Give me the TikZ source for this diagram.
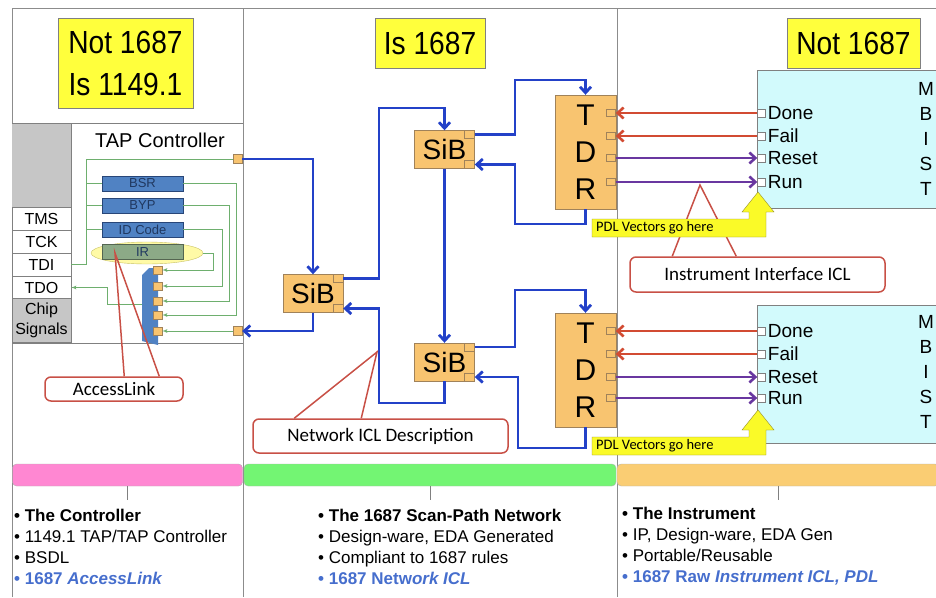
\documentclass[tikz,border=0pt]{standalone}
\usepackage{fontspec}
\setmainfont{Liberation Sans}
\newfontfamily\calfont{Carlito}
\newfontfamily\hdrfont[FakeStretch=0.88]{Liberation Sans}
\usepackage{xcolor}
\usetikzlibrary{shapes.geometric, arrows, arrows.meta, calc}

\definecolor{hdryellow}{RGB}{255,255,60}
\definecolor{sibfill}{RGB}{248,196,112}
\definecolor{sibline}{RGB}{160,130,90}
\definecolor{netblue}{RGB}{35,65,200}
\definecolor{regblue}{RGB}{80,130,195}
\definecolor{regline}{RGB}{40,70,120}
\definecolor{irfill}{RGB}{140,170,135}
\definecolor{tapgreen}{RGB}{110,175,110}
\definecolor{calred}{RGB}{200,80,70}
\definecolor{sigred}{RGB}{210,75,50}
\definecolor{sigpurple}{RGB}{105,55,160}
\definecolor{mbistfill}{RGB}{210,250,252}
\definecolor{bandpink}{RGB}{255,135,210}
\definecolor{bandgreen}{RGB}{115,245,115}
\definecolor{bandorange}{RGB}{250,205,115}
\definecolor{textblue}{RGB}{70,110,205}
\definecolor{framegray}{RGB}{140,140,140}
\definecolor{pdlyellow}{RGB}{250,250,40}

\begin{document}
\begin{tikzpicture}[x=1pt, y=-1pt]
    \tikzstyle{hdr} = [rectangle, draw=gray, fill=hdryellow, inner sep=0pt, align=center, font=\hdrfont\fontsize{32}{42}\selectfont]
    \tikzstyle{pinbox} = [rectangle, draw=gray, fill=white, minimum width=59, minimum height=23, inner sep=0pt, font=\fontsize{16}{18}\selectfont]
    \tikzstyle{regbox} = [rectangle, draw=regline, fill=regblue, minimum width=81, minimum height=15, inner sep=0pt, text=regline!80!black, font=\fontsize{13}{14}\selectfont]
    \tikzstyle{port} = [rectangle, draw=sibline, fill=sibfill, minimum width=9, minimum height=9, inner sep=0pt]
    \tikzstyle{gwire} = [draw=tapgreen, line width=0.8pt]
    \tikzstyle{sib} = [rectangle, draw=sibline, fill=sibfill, minimum width=60, minimum height=38, inner sep=0pt, font=\fontsize{28}{30}\selectfont]
    \tikzstyle{notch} = [rectangle, draw=sibline, minimum width=10, minimum height=8, inner sep=0pt]
    \tikzstyle{tdr} = [rectangle, draw=sibline, fill=sibfill, minimum width=61, minimum height=114, inner sep=0pt, align=center, font=\fontsize{30}{37}\selectfont]
    \tikzstyle{tsq} = [rectangle, draw=sibline, fill=sibfill, minimum width=9, minimum height=7, inner sep=0pt]
    \tikzstyle{mbist} = [rectangle, draw=gray, fill=mbistfill, minimum width=183, minimum height=138, inner sep=0pt]
    \tikzstyle{msq} = [rectangle, draw=gray, fill=white, minimum width=8, minimum height=8, inner sep=0pt]
    \tikzstyle{sigtxt} = [anchor=west, inner sep=2pt, font=\fontsize{19}{20}\selectfont]
    \tikzstyle{mbletters} = [align=center, inner sep=0pt, font=\fontsize{19}{25}\selectfont]
    \tikzstyle{net} = [draw=netblue, line width=2.8pt, -{Straight Barb[length=6pt,width=11pt]}]
    \tikzstyle{redsig} = [draw=sigred, line width=2.6pt, -{Straight Barb[length=6pt,width=11pt]}]
    \tikzstyle{pursig} = [draw=sigpurple, line width=2.6pt, -{Straight Barb[length=6pt,width=11pt]}]
    \tikzstyle{callbox} = [rectangle, draw=calred, line width=1.5pt, rounded corners=6pt, fill=white, font=\calfont\fontsize{19}{20}\selectfont]
    \tikzstyle{callptr} = [draw=calred, line width=1.5pt]
    \tikzstyle{pdlshape} = [draw=olive!70!gray, fill=pdlyellow]
    \tikzstyle{pdltxt} = [anchor=west, inner sep=0pt, font=\calfont\fontsize{14.5}{15}\selectfont]
    \tikzstyle{band} = [rectangle, draw=gray!60, rounded corners=4pt, minimum height=22, inner sep=0pt]
    \tikzstyle{tick} = [draw=gray, line width=1pt]
    \tikzstyle{notes} = [anchor=west, align=left, inner sep=0pt, font=\fontsize{17}{21}\selectfont]

    \useasboundingbox (0,0) rectangle (936,597);

    % frame and columns
    \draw[framegray, line width=1pt] (12,597) -- (12,8) -- (936,8);
    \draw[framegray] (243,8) -- (243,597);
    \draw[framegray] (617,8) -- (617,597);

    \node[hdr, minimum width=135, minimum height=90] (hdrtap) at (125.5,63) {Not 1687\\Is 1149.1};
    \node[hdr, minimum width=110, minimum height=50] (hdrnet) at (430,43) {Is 1687};
    \node[hdr, minimum width=133, minimum height=50] (hdrinst) at (853.5,43) {Not 1687};

    % TAP controller
    \fill[gray!45] (12,123) rectangle (71,343);
    \draw[gray] (12,123) -- (243,123);
    \draw[gray] (12,343) -- (243,343);
    \draw[gray] (71,123) -- (71,343);
    \node[font=\fontsize{20}{22}\selectfont] (tapname) at (160,140) {TAP Controller};

    \node[pinbox] (tms) at (41.5,218.5) {TMS};
    \node[pinbox] (tck) at (41.5,241.5) {TCK};
    \node[pinbox] (tdi) at (41.5,264.5) {TDI};
    \node[pinbox] (tdo) at (41.5,287.5) {TDO};
    \node[pinbox, fill=gray!45, minimum height=44, align=center, font=\fontsize{16}{20}\selectfont] (chip) at (41.5,320.5) {Chip\\Signals};

    \node[port] (tapout) at (237.5,159) {};
    \node[port] (tapin) at (237.5,331) {};

    \node[ellipse, fill=yellow!35, draw=yellow!50!gray, minimum width=112, minimum height=22, inner sep=0pt] (irhalo) at (147,253) {};
    \node[regbox] (bsr) at (142.5,183.5) {BSR};
    \node[regbox] (byp) at (142.5,205.5) {BYP};
    \node[regbox] (idc) at (142.5,229.5) {ID Code};
    \node[regbox, fill=irfill, draw=irfill!60!black] (ir) at (142.5,252) {IR};

    \fill[regblue] (142,275) -- (149,268) -- (158,268) -- (158,345) -- (142,341) -- cycle;
    \coordinate (muxout) at (142,304);
    \node[port, minimum height=8] (m1) at (157.5,270) {};
    \node[port, minimum height=8] (m2) at (157.5,286) {};
    \node[port, minimum height=8] (m3) at (157.5,301) {};
    \node[port, minimum height=8] (m4) at (157.5,315) {};
    \node[port, minimum height=8] (m5) at (157.5,331) {};

    \coordinate (tbus) at (86,159);
    \draw[gwire] (tdi.east) -| (tbus) -- (tapout.west);
    \draw[gwire] (bsr.west -| tbus) -- (bsr.west);
    \draw[gwire] (byp.west -| tbus) -- (byp.west);
    \draw[gwire] (idc.west -| tbus) -- (idc.west);
    \draw[gwire, -latex'] (irhalo.east) -| (213,270) -- (m1.east);
    \draw[gwire, -latex'] (idc.east) -| (222,286) -- (m2.east);
    \draw[gwire, -latex'] (byp.east) -| (229,301) -- (m3.east);
    \draw[gwire, -latex'] (bsr.east) -| (236,315) -- (m4.east);
    \draw[gwire, -latex'] (tapin.west) -- (m5.east);
    \draw[gwire, -latex'] (muxout) -| (107,287.5) -- (tdo.east);

    % scan-path network
    \node[sib] (sib1) at (313,293.5) {SiB};
    \node[sib] (sib2) at (444.5,149.5) {SiB};
    \node[sib] (sib3) at (444.5,362) {SiB};
    \node[notch, anchor=north east] (sib1o) at (sib1.north east) {};
    \node[notch, anchor=south east] (sib1i) at (sib1.south east) {};
    \node[notch, anchor=north east] (sib2o) at (sib2.north east) {};
    \node[notch, anchor=south east] (sib2i) at (sib2.south east) {};
    \node[notch, anchor=north east] (sib3o) at (sib3.north east) {};
    \node[notch, anchor=south east] (sib3i) at (sib3.south east) {};

    \node[tdr] (tdr1) at (585.5,152) {T\\D\\R};
    \node[tdr] (tdr2) at (585.5,370) {T\\D\\R};

    \draw[net] (tapout.east) -| (sib1.north);
    \draw[net] (sib1.south) |- (tapin.east);
    \draw[net] (sib1o.east) -| (379,108) -| (sib2.north);
    \draw[net] (sib2o.east) -| (515,80) -| (tdr1.north);
    \draw[net] (tdr1.south) |- (515,224) |- (sib2i.east);
    \draw[net] (sib2.south) -- (sib3.north);
    \draw[net] (sib3o.east) -| (515,290) -| (tdr2.north);
    \draw[net] (tdr2.south) |- (518,448) |- (sib3i.east);
    \draw[net] (sib3.south) |- (379,403) |- (sib1i.east);

    % instruments
    \node[mbist] (mb1) at (848.5,139) {};
    \node[mbist] (mb2) at (848.5,374) {};
    \node[mbletters] (mb1name) at (926,139) {M\\B\\I\\S\\T};
    \node[mbletters] (mb2name) at (926,372) {M\\B\\I\\S\\T};

    \node[tsq] (t1done) at (611,113) {};
    \node[tsq] (t1fail) at (611,136) {};
    \node[tsq] (t1reset) at (611,158) {};
    \node[tsq] (t1run) at (611,182) {};
    \node[msq] (m1done) at (761.5,113) {};
    \node[msq] (m1fail) at (761.5,136) {};
    \node[msq] (m1reset) at (761.5,158) {};
    \node[msq] (m1run) at (761.5,182) {};
    \node[sigtxt] (l1done) at (m1done.east) {Done};
    \node[sigtxt] (l1fail) at (m1fail.east) {Fail};
    \node[sigtxt] (l1reset) at (m1reset.east) {Reset};
    \node[sigtxt] (l1run) at (m1run.east) {Run};
    \draw[redsig] (m1done.west) -- (t1done.east);
    \draw[redsig] (m1fail.west) -- (t1fail.east);
    \draw[pursig] (t1reset.east) -- (m1reset.west);
    \draw[pursig] (t1run.east) -- (m1run.west);

    \node[tsq] (t2done) at (611,331) {};
    \node[tsq] (t2fail) at (611,354) {};
    \node[tsq] (t2reset) at (611,377) {};
    \node[tsq] (t2run) at (611,398) {};
    \node[msq] (m2done) at (761.5,331) {};
    \node[msq] (m2fail) at (761.5,354) {};
    \node[msq] (m2reset) at (761.5,377) {};
    \node[msq] (m2run) at (761.5,398) {};
    \node[sigtxt] (l2done) at (m2done.east) {Done};
    \node[sigtxt] (l2fail) at (m2fail.east) {Fail};
    \node[sigtxt] (l2reset) at (m2reset.east) {Reset};
    \node[sigtxt] (l2run) at (m2run.east) {Run};
    \draw[redsig] (m2done.west) -- (t2done.east);
    \draw[redsig] (m2fail.west) -- (t2fail.east);
    \draw[pursig] (t2reset.east) -- (m2reset.west);
    \draw[pursig] (t2run.east) -- (m2run.west);

    % callouts
    \node[callbox, minimum width=255, minimum height=35] (iicl) at (757.5,274.5) {Instrument Interface ICL};
    \coordinate (iicltip) at (700,185);
    \draw[callptr] ($(iicl.north west)+(43,0)$) -- (iicltip) -- ($(iicl.north west)+(107,0)$);

    \node[callbox, minimum width=255, minimum height=34] (nicl) at (380.5,436) {Network ICL Description};
    \coordinate (nicltip) at (377,352);
    \draw[callptr] ($(nicl.north west)+(42,0)$) -- (nicltip) -- ($(nicl.north west)+(109,0)$);

    \node[callbox, minimum width=138, minimum height=24] (alink) at (114,389) {AccessLink};
    \coordinate (alinktip) at (115,253);
    \draw[callptr] ($(alink.north west)+(80,0)$) -- (alinktip) -- ($(alink.north west)+(115,0)$);

    \draw[pdlshape] (592,237) -- (592,219) -- (749,219) -- (749,212) -- (742,212) -- (758,192) -- (774,212) -- (766,212) -- (766,237) -- cycle;
    \node[pdltxt] (pdl1) at (596,228) {PDL Vectors go here};
    \draw[pdlshape] (592,455) -- (592,437) -- (749,437) -- (749,430) -- (742,430) -- (758,410) -- (774,430) -- (766,430) -- (766,455) -- cycle;
    \node[pdltxt] (pdl2) at (596,446) {PDL Vectors go here};

    % bands and notes
    \node[band, fill=bandpink, minimum width=230] (bandtap) at (127.5,475) {};
    \node[band, fill=bandgreen, minimum width=372] (bandnet) at (430,475) {};
    \node[band, fill=bandorange, minimum width=322] (bandinst) at (778,475) {};
    \draw[tick] (bandtap.south) -- ++(0,14);
    \draw[tick] (bandnet.south) -- ++(0,14);
    \draw[tick] (bandinst.south) -- ++(0,14);

    \node[notes] (notestap) at (14,546.5) {\textbf{• The Controller}\\• 1149.1 TAP/TAP Controller\\• BSDL\\\textcolor{textblue}{\textbf{• 1687 \textit{AccessLink}}}};
    \node[notes] (notesnet) at (318,546.5) {\textbf{• The 1687 Scan-Path Network}\\• Design-ware, EDA Generated\\• Compliant to 1687 rules\\\textcolor{textblue}{\textbf{• 1687 Netw\textit{ork ICL}}}};
    \node[notes] (notesinst) at (622,546.5) {\textbf{• The Instrument}\\• IP, Design-ware, EDA Gen\\• Portable/Reusable\\\textcolor{textblue}{\textbf{• 1687 Raw \textit{Instrument ICL, PDL}}}};
\end{tikzpicture}
\end{document}
